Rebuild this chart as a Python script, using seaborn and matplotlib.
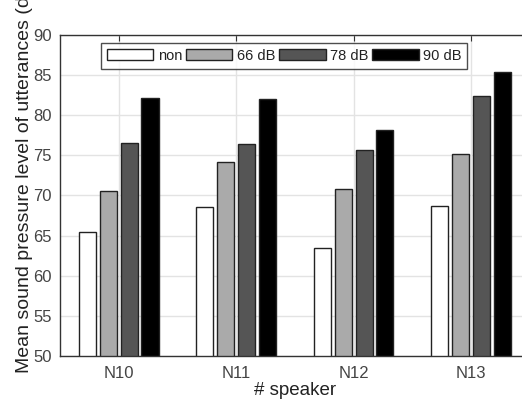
import pandas as pd
import numpy as np
import matplotlib.pyplot as plt
import seaborn as sns

speakers = ["N10", "N11", "N12", "N13"]
conditions = ["non", "66 dB", "78 dB", "90 dB"]
non = [65.5, 68.5, 63.5, 68.7]
db66 = [70.5, 74.2, 70.8, 75.2]
db78 = [76.5, 76.4, 75.6, 82.4]
db90 = [82.1, 82.0, 78.2, 85.4]
colors = ["#ffffff", "#aaaaaa", "#555555", "#000000"]

df = pd.DataFrame({
    "speaker": speakers * 4,
    "condition": np.repeat(conditions, 4),
    "level": non + db66 + db78 + db90,
})

sns.set_style("white")
plt.rcParams["font.family"] = ["Liberation Sans", "DejaVu Sans"]

fig = plt.figure(figsize=(5.22, 4.05), dpi=100)
ax = fig.add_axes([0.115, 0.121, 0.900, 0.793])

sns.barplot(data=df, x="speaker", y="level", hue="condition", hue_order=conditions,
            palette=colors, width=0.71, gap=0.18, edgecolor="#222222", linewidth=1,
            saturation=1, ax=ax)

ax.set_ylim(50, 90)
ax.set_xlim(-0.5, 3.5)
ax.set_yticks(range(50, 91, 5))
ax.grid(True, color="#e3e3e3", linewidth=1)
ax.set_axisbelow(True)
ax.tick_params(direction="in", length=4, top=True, right=False, labelsize=12,
               colors="#333333", labelcolor="#444444")
ax.tick_params(axis="x", pad=7)
ax.tick_params(axis="y", pad=6)
for s in ax.spines.values():
    s.set_color("#333333")
    s.set_linewidth(1)
ax.spines["right"].set_visible(False)

ax.set_xlabel("# speaker", fontsize=13.5, color="#222222", labelpad=1)
ax.set_ylabel("Mean sound pressure level of utterances (dB)", fontsize=14,
              color="#222222")
ax.yaxis.set_label_coords(-0.058, 0.565)

leg = ax.legend(loc="upper center", bbox_to_anchor=(0.477, 0.975), ncol=4,
                fontsize=10.5, frameon=True, fancybox=False, borderaxespad=0,
                handlelength=3.2, handleheight=0.75, handletextpad=0.3,
                columnspacing=0.25, borderpad=0.4)
leg.get_frame().set_edgecolor("#222222")
leg.get_frame().set_linewidth(1)
for t in leg.get_texts():
    t.set_color("#222222")

fig.savefig("out.png", dpi=100)
